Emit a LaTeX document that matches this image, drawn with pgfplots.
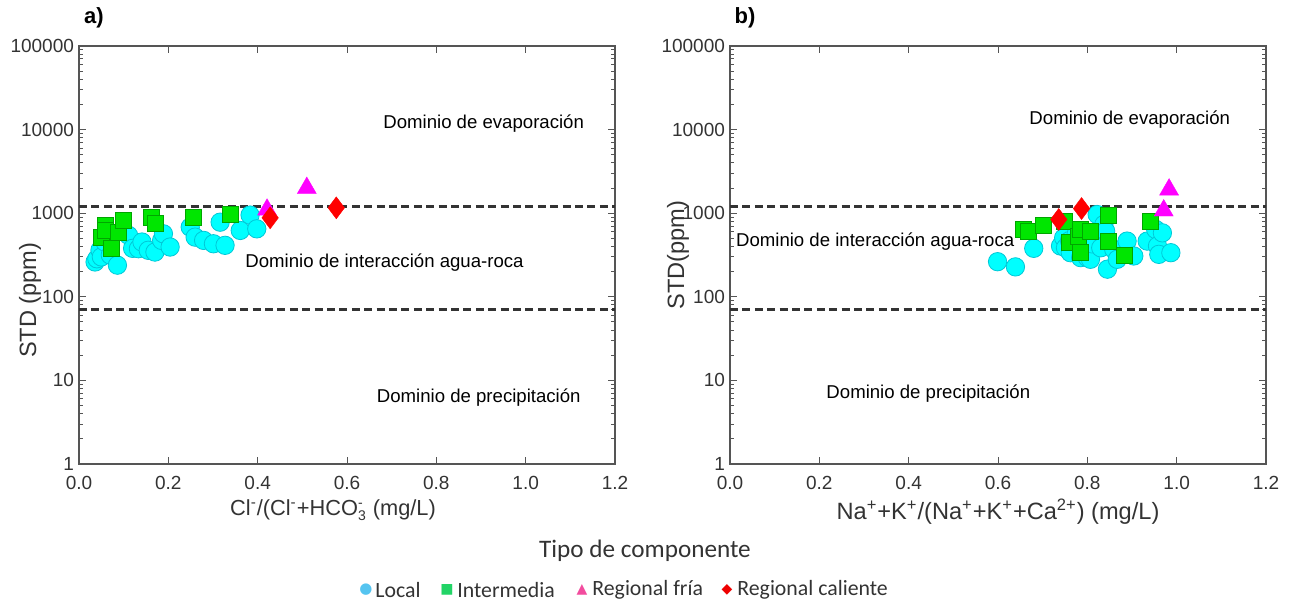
\documentclass[border=0pt]{standalone}
\usepackage{pgfplots}
\pgfplotsset{compat=1.18}
\usepackage{fontspec}
\setmainfont{Liberation Sans}
\newfontfamily\carlito{Carlito}
\newfontfamily\dejavu{DejaVu Sans}
\definecolor{axgray}{HTML}{555555}
\definecolor{txt}{HTML}{333333}
\definecolor{cyanF}{RGB}{0,255,255}
\definecolor{cyanE}{RGB}{0,200,215}
\definecolor{greenF}{RGB}{0,230,0}
\definecolor{greenE}{RGB}{0,165,0}
\definecolor{magF}{RGB}{255,0,255}
\definecolor{redF}{RGB}{255,0,0}
\definecolor{legBlue}{HTML}{55C4F0}
\definecolor{legGreen}{HTML}{22D466}
\definecolor{legPink}{HTML}{F24C9E}
\definecolor{legRed}{HTML}{EE0000}

\begin{document}
\begin{tikzpicture}
\useasboundingbox (0,0) rectangle (644.5pt,300.5pt);
\begin{axis}[at={(39.5pt,68.5pt)}, anchor=south west,
  ymode=log, scale only axis, width=268pt, height=209pt,
  xmin=0, xmax=1.2, ymin=1, ymax=100000,
  xtick={0,0.2,0.4,0.6,0.8,1.0,1.2},
  xticklabels={0.0,0.2,0.4,0.6,0.8,1.0,1.2},
  ytick={1,10,100,1000,10000,100000},
  yticklabels={1,10,100,1000,10000,100000},
  minor ytick={2,3,4,5,6,7,8,9,20,30,40,50,60,70,80,90,200,300,400,500,600,700,800,900,2000,3000,4000,5000,6000,7000,8000,9000,20000,30000,40000,50000,60000,70000,80000,90000},
  axis line style={color=axgray, line width=0.75pt},
  tick style={color=axgray, line width=0.5pt},
  major tick length=3.5pt, minor tick length=2pt,
  tick label style={font=\fontsize{9.5}{10}\selectfont, text=txt},
  x tick label style={yshift=-2.5pt},
  y tick label style={xshift=1pt},
  label style={font=\fontsize{11.8}{12}\selectfont, text=txt},
  ylabel style={at={(axis description cs:-0.0914,0.392)}, anchor=center},
  xlabel style={font=\fontsize{10.9}{12}\selectfont, xshift=-7pt, yshift=2pt},
  ylabel={STD (ppm)},
  xlabel={Cl\textsuperscript{-}/(Cl\textsuperscript{-}+HCO$_{\mbox{\scriptsize 3}}^{\mbox{\scriptsize -}}$ (mg/L)},
]
\addplot[forget plot, color=txt, line width=1.3pt, dash pattern=on 4pt off 2.2pt] coordinates {(0,1200) (1.2,1200)};
\addplot[forget plot, color=txt, line width=1.3pt, dash pattern=on 4pt off 2.2pt] coordinates {(0,70) (1.2,70)};
\addplot[only marks, mark=*, mark size=4.6pt, mark options={fill=cyanF, draw=cyanE, line width=0.4pt}] coordinates {
(0.036,261) (0.040,285) (0.047,362) (0.050,300) (0.058,452) (0.070,316)
(0.086,239) (0.111,543) (0.120,380) (0.133,376) (0.141,452) (0.155,360)
(0.170,343) (0.185,473) (0.189,567) (0.204,394) (0.249,681) (0.260,517)
(0.279,473) (0.301,431) (0.316,781) (0.327,413) (0.361,622) (0.383,950)
(0.398,650)};
\addplot[only marks, mark=square*, mark size=4pt, mark options={fill=greenF, draw=greenE, line width=0.4pt}] coordinates {
(0.051,517) (0.058,712) (0.060,620) (0.073,376) (0.088,593) (0.099,818)
(0.163,896) (0.170,745) (0.256,896) (0.339,965)};
\addplot[only marks, mark=triangle*, mark size=5.5pt, mark options={fill=magF, draw=magF, line width=0.2pt}] coordinates {(0.421,1100) (0.510,2000)};
\addplot[only marks, mark=diamond*, mark size=5.5pt, mark options={fill=redF, draw=redF, line width=0.2pt}] coordinates {(0.428,880) (0.576,1160)};
\node[font=\fontsize{9.3}{10}\selectfont] at (axis cs:0.906,11750) {Dominio de evaporación};
\node[font=\fontsize{9.3}{10}\selectfont] at (axis cs:0.684,254) {Dominio de interacción agua-roca};
\node[font=\fontsize{9.3}{10}\selectfont] at (axis cs:0.895,6.3) {Dominio de precipitación};
\end{axis}
\begin{axis}[at={(365pt,68.5pt)}, anchor=south west,
  ymode=log, scale only axis, width=268pt, height=209pt,
  xmin=0, xmax=1.2, ymin=1, ymax=100000,
  xtick={0,0.2,0.4,0.6,0.8,1.0,1.2},
  xticklabels={0.0,0.2,0.4,0.6,0.8,1.0,1.2},
  ytick={1,10,100,1000,10000,100000},
  yticklabels={1,10,100,1000,10000,100000},
  minor ytick={2,3,4,5,6,7,8,9,20,30,40,50,60,70,80,90,200,300,400,500,600,700,800,900,2000,3000,4000,5000,6000,7000,8000,9000,20000,30000,40000,50000,60000,70000,80000,90000},
  axis line style={color=axgray, line width=0.75pt},
  tick style={color=axgray, line width=0.5pt},
  major tick length=3.5pt, minor tick length=2pt,
  tick label style={font=\fontsize{9.5}{10}\selectfont, text=txt},
  x tick label style={yshift=-2.5pt},
  y tick label style={xshift=1pt},
  label style={font=\fontsize{11.8}{12}\selectfont, text=txt},
  ylabel style={at={(axis description cs:-0.097,0.5)}, anchor=center},
  xlabel style={yshift=2pt},
  ylabel={STD(ppm)},
  xlabel={Na\textsuperscript{+}+K\textsuperscript{+}/(Na\textsuperscript{+}+K\textsuperscript{+}+Ca\textsuperscript{2+}) (mg/L)},
]
\addplot[forget plot, color=txt, line width=1.3pt, dash pattern=on 4pt off 2.2pt] coordinates {(0,1200) (1.2,1200)};
\addplot[forget plot, color=txt, line width=1.3pt, dash pattern=on 4pt off 2.2pt] coordinates {(0,70) (1.2,70)};
\addplot[only marks, mark=*, mark size=4.6pt, mark options={fill=cyanF, draw=cyanE, line width=0.4pt}] coordinates {
(0.599,263) (0.639,228) (0.680,380) (0.740,405) (0.747,508) (0.751,386)
(0.760,470) (0.762,337) (0.775,560) (0.785,294) (0.789,464) (0.795,520)
(0.800,294) (0.807,281) (0.810,430) (0.822,965) (0.830,386) (0.837,733)
(0.841,611) (0.845,214) (0.859,370) (0.867,281) (0.889,464) (0.904,308)
(0.934,464) (0.953,640) (0.957,405) (0.960,322) (0.968,582) (0.987,337)};
\addplot[only marks, mark=square*, mark size=4pt, mark options={fill=greenF, draw=greenE, line width=0.4pt}] coordinates {
(0.656,640) (0.669,599) (0.701,719) (0.749,803) (0.759,443) (0.781,532)
(0.785,640) (0.785,337) (0.807,611) (0.848,946) (0.848,464) (0.882,316)
(0.942,803)};
\addplot[only marks, mark=triangle*, mark size=5.5pt, mark options={fill=magF, draw=magF, line width=0.2pt}] coordinates {(0.971,1077) (0.983,1915)};
\addplot[only marks, mark=diamond*, mark size=5.5pt, mark options={fill=redF, draw=redF, line width=0.2pt}] coordinates {(0.736,842) (0.787,1137)};
\node[font=\fontsize{9.3}{10}\selectfont] at (axis cs:0.895,13150) {Dominio de evaporación};
\node[font=\fontsize{9.3}{10}\selectfont] at (axis cs:0.325,452) {Dominio de interacción agua-roca};
\node[font=\fontsize{9.3}{10}\selectfont] at (axis cs:0.444,7.0) {Dominio de precipitación};
\end{axis}
\node[font=\bfseries\fontsize{11}{12}\selectfont] at (47pt,291.5pt) {a)};
\node[font=\bfseries\fontsize{11}{12}\selectfont] at (372.5pt,291.5pt) {b)};
\node[font=\carlito\fontsize{12.6}{13}\selectfont, text=txt] at (322.5pt,25pt) {Tipo de componente};
\begin{scope}[every node/.style={inner sep=0pt}]
\node[font=\dejavu\fontsize{7.5}{8}\selectfont, text=legBlue] at (183pt,5.5pt) {●};
\node[font=\dejavu\fontsize{7}{8}\selectfont, text=legGreen] at (223.5pt,5.5pt) {■};
\node[font=\dejavu\fontsize{7}{8}\selectfont, text=legPink] at (291pt,5.5pt) {▲};
\node[font=\dejavu\fontsize{7}{8}\selectfont, text=legRed] at (363.5pt,5.5pt) {◆};
\node[font=\carlito\fontsize{10.9}{12}\selectfont, text=txt, anchor=west] at (187.5pt,5.5pt) {Local};
\node[font=\carlito\fontsize{10.9}{12}\selectfont, text=txt, anchor=west] at (228.5pt,5.5pt) {Intermedia};
\node[font=\carlito\fontsize{10.9}{12}\selectfont, text=txt, anchor=west] at (296pt,5.5pt) {Regional fría};
\node[font=\carlito\fontsize{10.9}{12}\selectfont, text=txt, anchor=west] at (368.5pt,5.5pt) {Regional caliente};
\end{scope}
\end{tikzpicture}
\end{document}
